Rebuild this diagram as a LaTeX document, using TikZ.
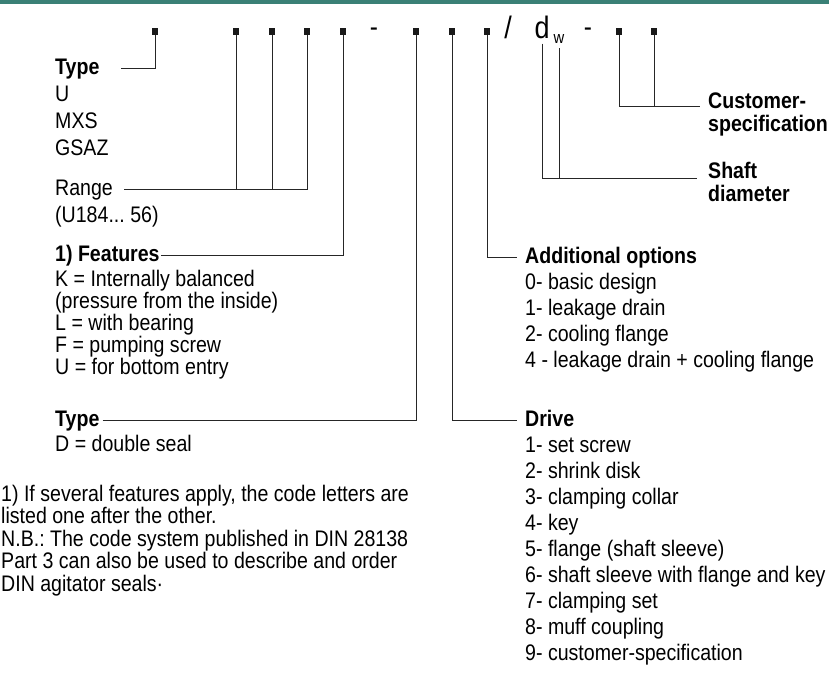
\documentclass[tikz,border=0pt]{standalone}
\usepackage{fontspec}
\setmainfont{Liberation Sans}[FakeStretch=0.87]
\definecolor{bandeau}{RGB}{58,128,118}
\frenchspacing
\begin{document}
\begin{tikzpicture}[x=1pt,y=-1pt]
	% Styles
	\tikzstyle{trait}=[line width=0.9pt,draw=black!85]
	\tikzstyle{carre}=[fill=black!90,minimum width=5.5pt,minimum height=7pt,inner sep=0pt]
	\tikzstyle{texte}=[font=\fontsize{22.5}{25}\selectfont,inner sep=0pt,anchor=base west]
	\tikzstyle{titre}=[texte,font=\bfseries\fontsize{22.5}{25}\selectfont]
	\tikzstyle{code}=[font=\fontsize{31}{33}\selectfont,inner sep=0pt,anchor=base]
	% Dimensions
	\def\Interligne{26}
	\def\InterNote{22.5}
	\def\NiveauCarres{31}
	\def\ColGauche{55}
	\def\ColDroite{525}
	\def\ColClient{708}
	\def\Base{6}
	\useasboundingbox (0,0) rectangle (829,673);
	\fill[bandeau] (0,0) rectangle (829,4);
	% Code
	\foreach \x [count=\i] in {155,236,272,307,343,416,452,487,619,654}
		\node[carre] (c\i) at (\x,\NiveauCarres) {};
	\node[code,font=\fontsize{28}{30}\selectfont] (tiret1) at (374,36) {-};
	\node[code] (barre) at (508,38) {/};
	\node[code] (d) at (542,38) {d};
	\node[code,font=\fontsize{17}{19}\selectfont] (w) at (559,43) {w};
	\node[code,font=\fontsize{28}{30}\selectfont] (tiret2) at (588,36) {-};
	% Colonne gauche
	\node[titre] (Type1) at (\ColGauche,68+\Base) {Type};
	\foreach \t [count=\i] in {U,MXS,GSAZ}
		\node[texte] (serie\i) at (\ColGauche,{68+\Base+\i*27}) {\t};
	\node[texte] (Gamme) at (\ColGauche,189+\Base) {Range};
	\node[texte] (Gamme2) at (\ColGauche,216+\Base) {(U184... 56)};
	\node[titre] (Variantes) at (\ColGauche,255+\Base) {1) Features};
	\node[texte] (varK) at (\ColGauche,280+\Base) {K = Internally balanced};
	\node[texte] (varK2) at (\ColGauche,302+\Base) {(pressure from the inside)};
	\node[texte] (varL) at (\ColGauche,324+\Base) {L = with bearing};
	\node[texte] (varF) at (\ColGauche,346+\Base) {F = pumping screw};
	\node[texte] (varU) at (\ColGauche,368+\Base) {U = for bottom entry};
	\node[titre] (Type2) at (\ColGauche,420+\Base) {Type};
	\node[texte] (Double) at (\ColGauche,445+\Base) {D = double seal};
	% Notes
	\foreach \t [count=\i] in {{1) If several features apply, the code letters are},{listed one after the other.},{N.B.: The code system published in DIN 28138},{Part 3 can also be used to describe and order},{DIN agitator seals·}}
		\node[texte] (note\i) at (1,{495+\Base+(\i-1)*\InterNote}) {\t};
	% Colonne droite
	\node[titre] (Client) at (\ColClient,102+\Base) {Customer-};
	\node[titre] (Client2) at (\ColClient,125+\Base) {specification};
	\node[titre] (Arbre) at (\ColClient,172+\Base) {Shaft};
	\node[titre] (Arbre2) at (\ColClient,195+\Base) {diameter};
	\node[titre] (Options) at (\ColDroite,257+\Base) {Additional options};
	\foreach \t [count=\i] in {0- basic design,1- leakage drain,2- cooling flange,4 - leakage drain + cooling flange}
		\node[texte] (opt\i) at (\ColDroite,{257+\Base+\i*\Interligne}) {\t};
	\node[titre] (Entrainement) at (\ColDroite,420+\Base) {Drive};
	\foreach \t [count=\i] in {1- set screw,2- shrink disk,3- clamping collar,4- key,5- flange (shaft sleeve),6- shaft sleeve with flange and key,7- clamping set,8- muff coupling,9- customer-specification}
		\node[texte] (drv\i) at (\ColDroite,{420+\Base+\i*\Interligne}) {\t};
	% Traits
	\draw[trait] (c1.south) |- ([xshift=21pt,yshift=\Base pt]Type1.base east);
	\coordinate (gammeL) at ([xshift=11pt,yshift=\Base pt]Gamme.base east);
	\draw[trait] (gammeL) -| (c4.south);
	\draw[trait] (c2.south) -- (c2.south |- gammeL);
	\draw[trait] (c3.south) -- (c3.south |- gammeL);
	\draw[trait] ([xshift=1pt,yshift=\Base pt]Variantes.base east) -| (c5.south);
	\draw[trait] ([xshift=3pt,yshift=\Base pt]Type2.base east) -| (c6.south);
	\draw[trait] (c7.south) |- ([xshift=-8pt,yshift=\Base pt]Entrainement.base west);
	\draw[trait] (c8.south) |- ([xshift=-8pt,yshift=\Base pt]Options.base west);
	\coordinate (arbreL) at ([xshift=-11pt]Arbre.base west);
	\draw[trait] ([yshift=-5pt]d.south) |- (arbreL);
	\draw[trait] ([yshift=-5pt]w.south) -- (w.south |- arbreL);
	\coordinate (clientL) at ([xshift=-8pt,yshift=1.5pt]Client.base west);
	\draw[trait] (c9.south) |- (clientL);
	\draw[trait] (c10.south) -- (c10.south |- clientL);
\end{tikzpicture}
\end{document}
